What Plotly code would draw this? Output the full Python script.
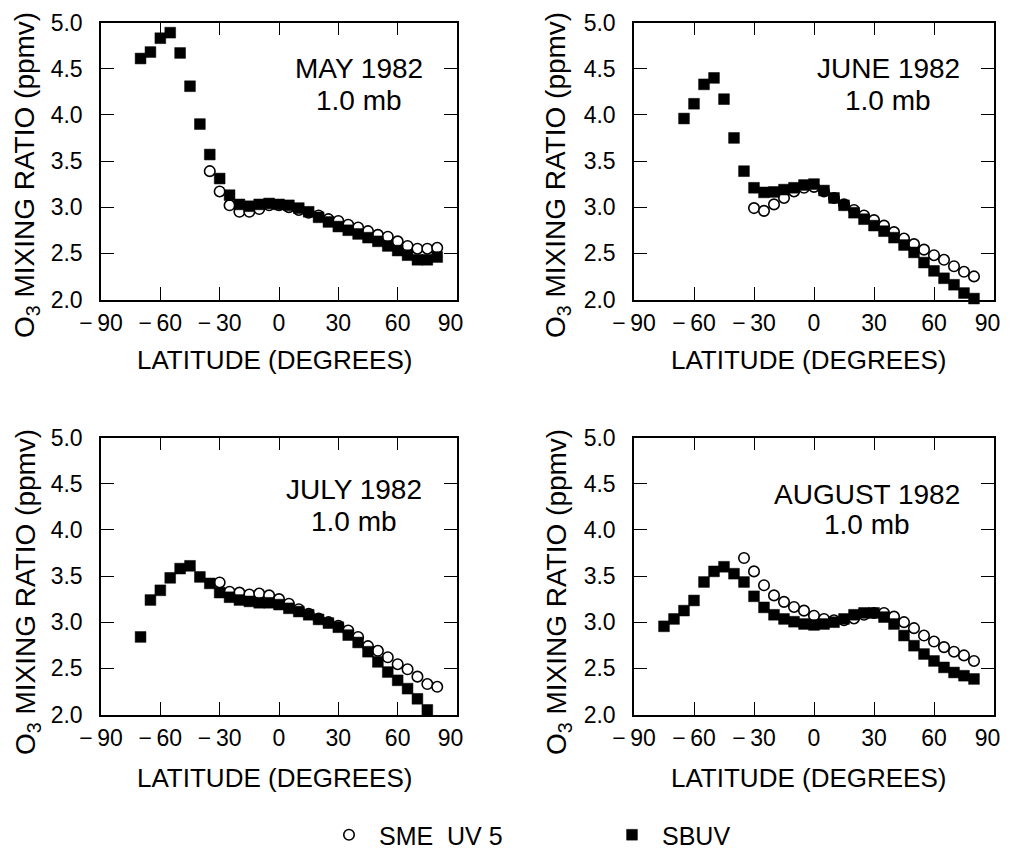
import plotly.graph_objects as go

# ---------------- data ----------------
may_lat_sbuv = [-70, -65, -60, -55, -50, -45, -40, -35, -30, -25, -20, -15, -10, -5, 0, 5, 10, 15, 20, 25, 30, 35, 40, 45, 50, 55, 60, 65, 70, 75, 80]
may_sbuv = [4.61, 4.68, 4.83, 4.89, 4.67, 4.31, 3.90, 3.57, 3.31, 3.13, 3.03, 3.01, 3.03, 3.04, 3.03, 3.02, 2.99, 2.95, 2.89, 2.84, 2.79, 2.75, 2.71, 2.67, 2.63, 2.58, 2.53, 2.48, 2.43, 2.43, 2.46]
may_lat_sme = [-35, -30, -25, -20, -15, -10, -5, 0, 5, 10, 15, 20, 25, 30, 35, 40, 45, 50, 55, 60, 65, 70, 75, 80]
may_sme = [3.39, 3.17, 3.02, 2.95, 2.95, 2.98, 3.02, 3.02, 3.00, 2.97, 2.94, 2.91, 2.87, 2.85, 2.81, 2.78, 2.74, 2.70, 2.68, 2.63, 2.58, 2.55, 2.55, 2.56]

jun_lat_sbuv = [-65, -60, -55, -50, -45, -40, -35, -30, -25, -20, -15, -10, -5, 0, 5, 10, 15, 20, 25, 30, 35, 40, 45, 50, 55, 60, 65, 70, 75, 80]
jun_sbuv = [3.96, 4.12, 4.33, 4.40, 4.17, 3.75, 3.39, 3.21, 3.16, 3.165, 3.19, 3.21, 3.24, 3.25, 3.18, 3.10, 3.02, 2.94, 2.87, 2.80, 2.74, 2.67, 2.59, 2.51, 2.40, 2.31, 2.23, 2.16, 2.07, 2.01]
jun_lat_sme = [-30, -25, -20, -15, -10, -5, 0, 5, 10, 15, 20, 25, 30, 35, 40, 45, 50, 55, 60, 65, 70, 75, 80]
jun_sme = [2.99, 2.96, 3.03, 3.10, 3.17, 3.21, 3.22, 3.17, 3.10, 3.03, 2.97, 2.91, 2.86, 2.80, 2.73, 2.66, 2.60, 2.54, 2.48, 2.43, 2.36, 2.30, 2.25]

jul_lat_sbuv = [-70, -65, -60, -55, -50, -45, -40, -35, -30, -25, -20, -15, -10, -5, 0, 5, 10, 15, 20, 25, 30, 35, 40, 45, 50, 55, 60, 65, 70, 75]
jul_sbuv = [2.84, 3.24, 3.345, 3.48, 3.58, 3.61, 3.49, 3.42, 3.32, 3.27, 3.24, 3.225, 3.21, 3.21, 3.19, 3.15, 3.115, 3.08, 3.03, 2.99, 2.945, 2.86, 2.78, 2.68, 2.57, 2.46, 2.37, 2.28, 2.17, 2.05]
jul_lat_sme = [-30, -25, -20, -15, -10, -5, 0, 5, 10, 15, 20, 25, 30, 35, 40, 45, 50, 55, 60, 65, 70, 75, 80]
jul_sme = [3.43, 3.33, 3.32, 3.30, 3.31, 3.29, 3.25, 3.20, 3.14, 3.09, 3.04, 3.00, 2.96, 2.91, 2.84, 2.74, 2.69, 2.62, 2.545, 2.49, 2.41, 2.33, 2.30]

aug_lat_sbuv = [-75, -70, -65, -60, -55, -50, -45, -40, -35, -30, -25, -20, -15, -10, -5, 0, 5, 10, 15, 20, 25, 30, 35, 40, 45, 50, 55, 60, 65, 70, 75, 80]
aug_sbuv = [2.955, 3.035, 3.125, 3.235, 3.435, 3.55, 3.60, 3.525, 3.435, 3.28, 3.16, 3.08, 3.035, 3.005, 2.98, 2.97, 2.98, 3.00, 3.035, 3.08, 3.10, 3.10, 3.055, 2.98, 2.855, 2.745, 2.655, 2.58, 2.51, 2.455, 2.42, 2.385]
aug_lat_sme = [-35, -30, -25, -20, -15, -10, -5, 0, 5, 10, 15, 20, 25, 30, 35, 40, 45, 50, 55, 60, 65, 70, 75, 80]
aug_sme = [3.695, 3.55, 3.40, 3.29, 3.22, 3.165, 3.125, 3.07, 3.035, 3.02, 3.02, 3.04, 3.08, 3.10, 3.10, 3.06, 3.00, 2.935, 2.855, 2.79, 2.73, 2.68, 2.64, 2.58, 2.545]

panel_months = ["MAY 1982", "JUNE 1982", "JULY 1982", "AUGUST 1982"]
panel_level = "1.0 mb"
x_tickvals = [-90, -60, -30, 0, 30, 60, 90]
x_ticktext = ["\u2212\u200990", "\u2212\u200960", "\u2212\u200930", "0", "30", "60", "90\u00a0\u00a0"]
y_tickvals = [2.0, 2.5, 3.0, 3.5, 4.0, 4.5, 5.0]
y_ticktext = ["2.0", "2.5", "3.0", "3.5", "4.0", "4.5", "5.0"]
series_names = ["SME\u00a0 UV\u00a05", "SBUV"]
x_title = "LATITUDE (DEGREES)"
y_title = "O<sub>3</sub> MIXING RATIO (ppmv)"

panels = [
    (may_lat_sme, may_sme, may_lat_sbuv, may_sbuv),
    (jun_lat_sme, jun_sme, jun_lat_sbuv, jun_sbuv),
    (jul_lat_sme, jul_sme, jul_lat_sbuv, jul_sbuv),
    (aug_lat_sme, aug_sme, aug_lat_sbuv, aug_sbuv),
]

# ---------------- layout geometry ----------------
# the page body has an 8px margin, so the figure is drawn 8px in from the top-left
OFF = 8
W, H = 1012 - OFF, 848 - OFF
FONT = "Liberation Sans, Arial, Helvetica, sans-serif"


def px(x):
    return (x - OFF) / W


def py(y):
    return 1 - (y - OFF) / H


x_doms = [[px(101), px(457)], [px(634), px(994)]]
y_doms = [[py(299.5), py(22.5)], [py(714.5), py(437.5)]]

fig = go.Figure()

for i, (lx_c, vy_c, lx_s, vy_s) in enumerate(panels):
    ax = "" if i == 0 else str(i + 1)
    xref, yref = "x" + ax, "y" + ax
    fig.add_trace(go.Scatter(
        x=lx_c, y=vy_c, mode="markers", name=series_names[0],
        xaxis=xref, yaxis=yref, cliponaxis=False,
        showlegend=(i == 0), legend="legend",
        marker=dict(symbol="circle", size=10.5, color="white",
                    line=dict(color="black", width=1.6)),
    ))
    fig.add_trace(go.Scatter(
        x=lx_s, y=vy_s, mode="markers", name=series_names[1],
        xaxis=xref, yaxis=yref, cliponaxis=False,
        showlegend=(i == 0), legend="legend2",
        marker=dict(symbol="square", size=10.8, color="black",
                    line=dict(color="black", width=0.5)),
    ))

axis_common = dict(showgrid=False, zeroline=False, showline=True, linecolor="black",
                   linewidth=1.5, mirror="ticks", ticks="inside", ticklen=13,
                   tickwidth=1.3, tickcolor="black", automargin=False,
                   ticklabeloverflow="allow",
                   tickfont=dict(family=FONT, size=23, color="black"))

layout = dict(width=W, height=H, margin=dict(l=0, r=0, t=0, b=0, pad=0, autoexpand=False),
              paper_bgcolor="white", plot_bgcolor="white",
              font=dict(family=FONT, color="black"))

for i in range(4):
    col, row = i % 2, i // 2
    ax = "" if i == 0 else str(i + 1)
    layout["xaxis" + ax] = dict(axis_common, domain=x_doms[col], range=[-90, 90],
                                tickvals=x_tickvals, ticktext=x_ticktext,
                                anchor="y" + ax, ticklabelstandoff=2)
    layout["yaxis" + ax] = dict(axis_common, domain=y_doms[row], range=[2, 5],
                                tickvals=y_tickvals, ticktext=y_ticktext,
                                anchor="x" + ax, ticklabelstandoff=12)

annotations = []
title_pos = [(359, 69, 100), (888, 69, 100), (354, 490, 521), (867, 494, 524)]
xt_pos = [(274, 360), (808, 360), (274, 778), (808, 778)]
yt_pos = [(27, 175), (558, 175), (27, 592), (558, 592)]
for i in range(4):
    tx, ty1, ty2 = title_pos[i]
    annotations.append(dict(text=panel_months[i], x=px(tx), y=py(ty1), xref="paper", yref="paper",
                            showarrow=False, xanchor="center", yanchor="middle",
                            font=dict(family=FONT, size=28, color="black")))
    annotations.append(dict(text=panel_level, x=px(tx), y=py(ty2), xref="paper", yref="paper",
                            showarrow=False, xanchor="center", yanchor="middle",
                            font=dict(family=FONT, size=28, color="black")))
    ax_, ay_ = xt_pos[i]
    annotations.append(dict(text=x_title, x=px(ax_), y=py(ay_), xref="paper", yref="paper",
                            showarrow=False, xanchor="center", yanchor="middle",
                            font=dict(family=FONT, size=26, color="black")))
    bx, by = yt_pos[i]
    annotations.append(dict(text=y_title, x=px(bx), y=py(by), xref="paper", yref="paper",
                            showarrow=False, xanchor="center", yanchor="middle", textangle=-90,
                            font=dict(family=FONT, size=28, color="black")))
layout["annotations"] = annotations

legend_common = dict(orientation="h", bgcolor="rgba(0,0,0,0)", borderwidth=0,
                     itemwidth=50, itemsizing="trace",
                     font=dict(family=FONT, size=25, color="black"),
                     xanchor="left", yanchor="middle", y=py(835))
layout["legend"] = dict(legend_common, x=px(319))
layout["legend2"] = dict(legend_common, x=px(602))

fig.update_layout(**layout)
fig.write_html("out.html")
